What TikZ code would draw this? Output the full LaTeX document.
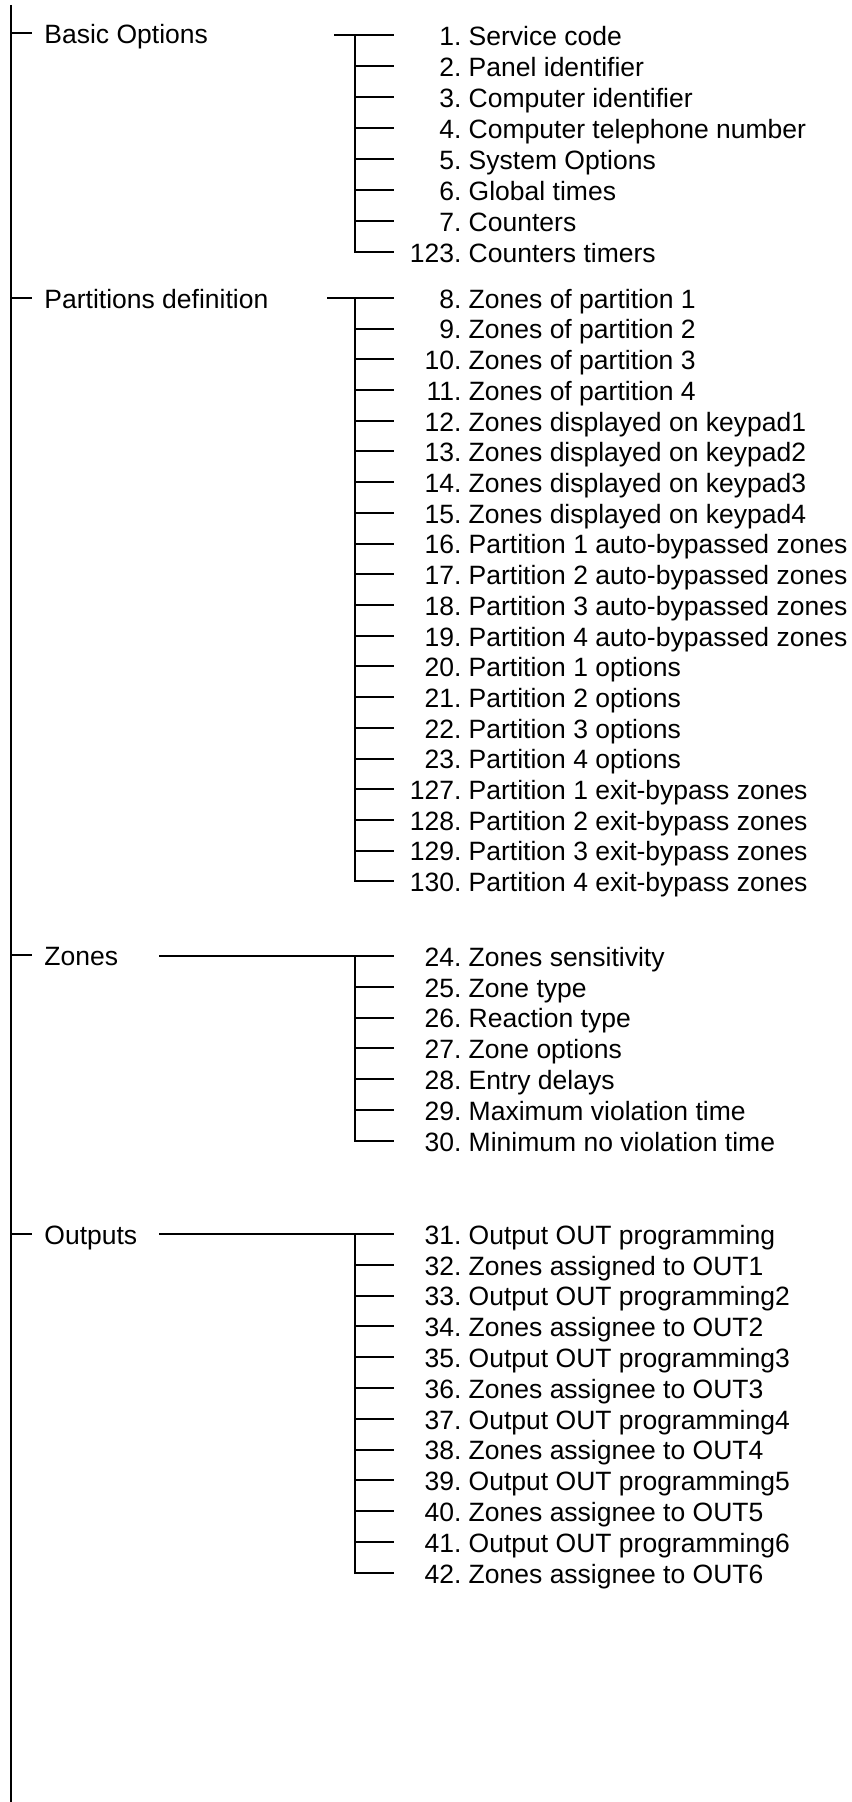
\documentclass[tikz,border=0pt]{standalone}
\usepackage{fontspec}
\setmainfont{Liberation Sans}
\usetikzlibrary{positioning}
\definecolor{mnInk}{RGB}{0, 0, 0}
\tikzset{
    base/.style={
        font=\fontsize{13.25}{15}\selectfont,
        text=mnInk,
        text height=10.3pt,
        text depth=0pt,
        inner ysep=0pt
    },
    heading/.style={
        base,
        anchor=west,
        inner xsep=6.5pt
    },
    entry/.style={
        base,
        anchor=west,
        inner xsep=6pt
    },
    spine/.style={
        draw=mnInk,
        line width=1pt
    },
    branch/.style={
        draw=mnInk,
        line width=1pt,
        line cap=rect
    },
    feeder/.style={
        draw=mnInk,
        line width=0.75pt
    }
}
\newcommand{\itemno}[1]{\makebox[28pt][r]{#1}\ }

\begin{document}
\begin{tikzpicture}[x=0.5pt, y=-0.5pt]
  \useasboundingbox (0,0) rectangle (851,1802);

  % Main spine
  \coordinate (top) at (11,5);
  \coordinate (bottom) at (11,1802);
  \draw[spine] (top) -- (bottom);

  % Basic Options
  \coordinate (basicTap) at (11,33);
  \node[heading] (basic) at (31,33) {Basic Options};
  \draw[branch] (basicTap) -- (basic);
  \foreach \idx/\desc [count=\i] in {1/Service code, 2/Panel identifier,
      3/Computer identifier, 4/Computer telephone number, 5/System Options,
      6/Global times, 7/Counters, 123/Counters timers} {
    \pgfmathsetmacro{\yy}{35+31*(\i-1)}
    \coordinate (bt\i) at (355,\yy);
    \node[entry] (b\i) at (393,\yy) {\itemno{\idx.}\desc};
    \draw[branch] (bt\i) -- (b\i);
  }
  \coordinate (basicStart) at (335,35);
  \draw[branch] (basicStart) -- (b1);
  \draw[branch] (bt1) -- (bt8) -- (b8);

  % Partitions definition
  \coordinate (partTap) at (11,298);
  \node[heading] (part) at (31,298) {Partitions definition};
  \draw[branch] (partTap) -- (part);
  \foreach \idx/\desc [count=\i] in {8/Zones of partition 1, 9/Zones of partition 2,
      10/Zones of partition 3, 11/Zones of partition 4,
      12/Zones displayed on keypad1, 13/Zones displayed on keypad2,
      14/Zones displayed on keypad3, 15/Zones displayed on keypad4,
      16/Partition 1 auto-bypassed zones, 17/Partition 2 auto-bypassed zones,
      18/Partition 3 auto-bypassed zones, 19/Partition 4 auto-bypassed zones,
      20/Partition 1 options, 21/Partition 2 options,
      22/Partition 3 options, 23/Partition 4 options,
      127/Partition 1 exit-bypass zones, 128/Partition 2 exit-bypass zones,
      129/Partition 3 exit-bypass zones, 130/Partition 4 exit-bypass zones} {
    \pgfmathsetmacro{\yy}{298+30.7*(\i-1)}
    \coordinate (pt\i) at (355,\yy);
    \node[entry] (p\i) at (393,\yy) {\itemno{\idx.}\desc};
    \draw[branch] (pt\i) -- (p\i);
  }
  \coordinate (partStart) at (328,298);
  \draw[branch] (partStart) -- (p1);
  \draw[branch] (pt1) -- (pt20) -- (p20);

  % Zones
  \coordinate (zoneTap) at (11,955);
  \node[heading] (zone) at (31,955) {Zones};
  \draw[branch] (zoneTap) -- (zone);
  \foreach \idx/\desc [count=\i] in {24/Zones sensitivity, 25/Zone type,
      26/Reaction type, 27/Zone options, 28/Entry delays,
      29/Maximum violation time, 30/Minimum no violation time} {
    \pgfmathsetmacro{\yy}{956+30.8*(\i-1)}
    \coordinate (zt\i) at (355,\yy);
    \node[entry] (z\i) at (393,\yy) {\itemno{\idx.}\desc};
    \draw[branch] (zt\i) -- (z\i);
  }
  \coordinate (zoneStart) at (159,956);
  \draw[feeder] (zoneStart) -- (z1);
  \draw[branch] (zt1) -- (zt7) -- (z7);

  % Outputs
  \coordinate (outTap) at (11,1234);
  \node[heading] (out) at (31,1234) {Outputs};
  \draw[branch] (outTap) -- (out);
  \foreach \idx/\desc [count=\i] in {31/Output OUT programming,
      32/Zones assigned to OUT1, 33/Output OUT programming2,
      34/Zones assignee to OUT2, 35/Output OUT programming3,
      36/Zones assignee to OUT3, 37/Output OUT programming4,
      38/Zones assignee to OUT4, 39/Output OUT programming5,
      40/Zones assignee to OUT5, 41/Output OUT programming6,
      42/Zones assignee to OUT6} {
    \pgfmathsetmacro{\yy}{1234+30.8*(\i-1)}
    \coordinate (ot\i) at (355,\yy);
    \node[entry] (o\i) at (393,\yy) {\itemno{\idx.}\desc};
    \draw[branch] (ot\i) -- (o\i);
  }
  \coordinate (outStart) at (159,1234);
  \draw[feeder] (outStart) -- (o1);
  \draw[branch] (ot1) -- (ot12) -- (o12);
\end{tikzpicture}
\end{document}
